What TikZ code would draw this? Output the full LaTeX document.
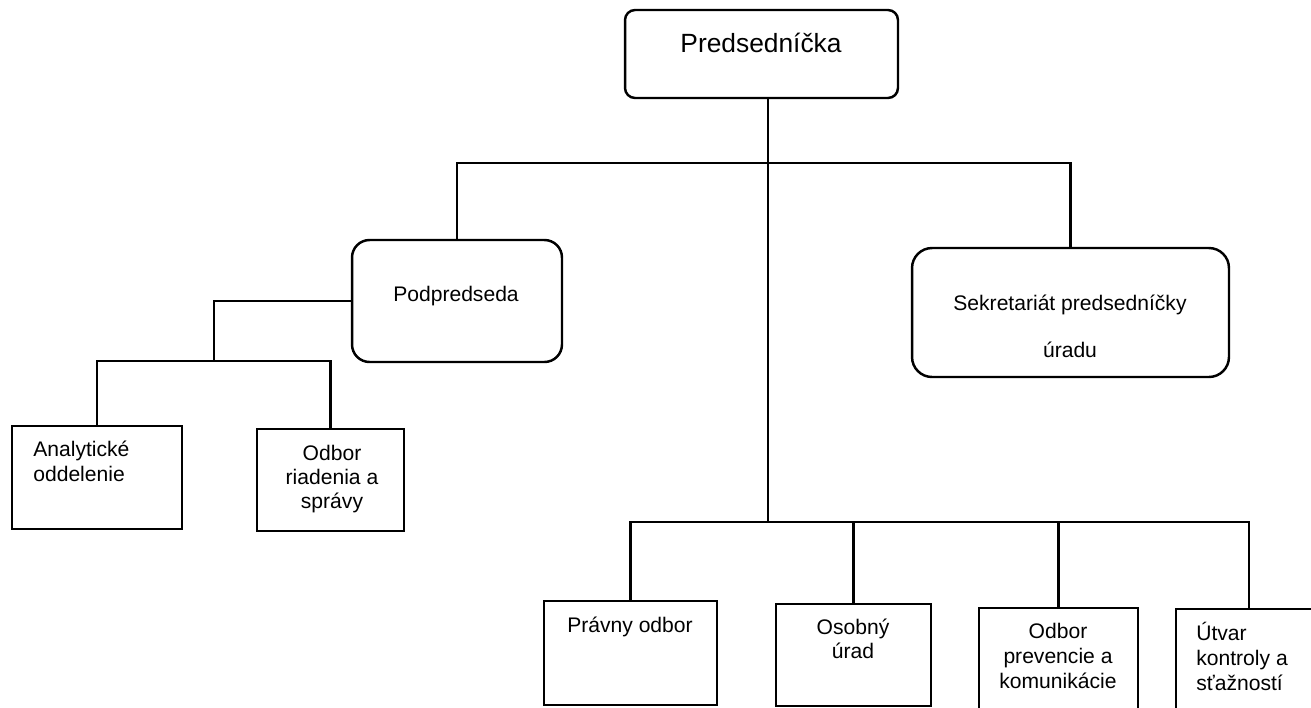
\documentclass[tikz,border=0pt]{standalone}
\usepackage{fontspec}
\setmainfont{Liberation Sans}
\usepackage{tikz}

\begin{document}
\begin{tikzpicture}[x=0.02cm, y=-0.02cm,
    box/.style={draw, line width=1.4pt, inner sep=0pt},
    roundbox/.style={box, rounded corners=#1},
    txt/.style={inner sep=0pt, anchor=base, align=center, font=\fontsize{12}{14.2}\selectfont},
    link/.style={line width=1.4pt}]
  \useasboundingbox (0,0) rectangle (1311,707);
  \clip (0,0) rectangle (1311,707);
  \node[roundbox=0.2cm, minimum width=5.46cm, minimum height=1.76cm] (pred) at (761.5,54) {};
  \node[roundbox=0.35cm, minimum width=4.2cm, minimum height=2.44cm] (podp) at (457,301) {};
  \node[roundbox=0.4cm, minimum width=6.34cm, minimum height=2.58cm] (sekr) at (1070.5,312.5) {};
  \node[box, minimum width=3.4cm, minimum height=2.06cm] (anal) at (97,477.5) {};
  \node[box, minimum width=2.94cm, minimum height=2.04cm] (odbr) at (330.5,480) {};
  \node[box, minimum width=3.46cm, minimum height=2.08cm] (prav) at (630.5,653) {};
  \node[box, minimum width=3.1cm, minimum height=2.04cm] (osob) at (853.5,655) {};
  \node[box, minimum width=3.18cm, minimum height=2.08cm] (prev) at (1058.5,660) {};
  \node[box, minimum width=2.92cm, minimum height=2.06cm] (utva) at (1249,660.5) {};
  \node[txt, font=\fontsize{15}{18}\selectfont] (predT) at (761,52) {Predsedníčka};
  \node[txt] (podpT) at (456,301) {Podpredseda};
  \node[txt] (sekrT) at (1070,357) {Sekretariát predsedníčky\\[12.5pt]úradu};
  \node[txt, anchor=base west, align=left] (analT) at (33,481) {Analytické\\oddelenie};
  \node[txt, font=\fontsize{12}{13.6}\selectfont] (odbrT) at (332,508) {Odbor\\riadenia a\\správy};
  \node[txt] (pravT) at (630,632) {Právny odbor};
  \node[txt, font=\fontsize{12}{13.1}\selectfont] (osobT) at (853,658) {Osobný\\úrad};
  \node[txt] (prevT) at (1058,688) {Odbor\\prevencie a\\komunikácie};
  \node[txt, anchor=base west, align=left] (utvaT) at (1196,690) {Útvar\\kontroly a\\sťažností};
  \coordinate (topbus) at (0,163);
  \coordinate (botbus) at (0,522);
  \coordinate (leftbus) at (214,361);
  \draw[link] ([xshift=0.13cm]pred.south) -- ([xshift=0.13cm]pred.south |- botbus);
  \draw[link] (podp.north) -- (podp.north |- topbus) -- (sekr.north |- topbus) -- (sekr.north);
  \draw[link] (prav.north) -- (prav.north |- botbus) -- (utva.north |- botbus) -- (utva.north);
  \draw[link] (osob.north) -- (osob.north |- botbus);
  \draw[link] (prev.north) -- (prev.north |- botbus);
  \draw[link] (podp.west) -| (leftbus);
  \draw[link] (anal.north) -- (anal.north |- leftbus) -- (odbr.north |- leftbus) -- (odbr.north);
\end{tikzpicture}
\end{document}
